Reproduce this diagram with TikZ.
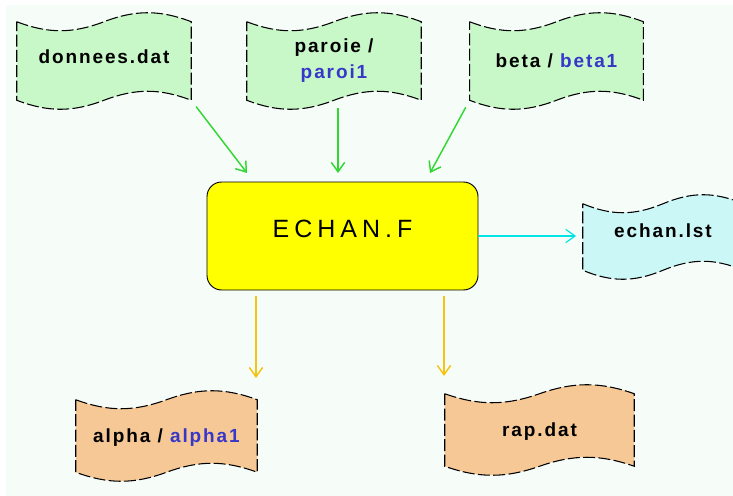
\documentclass[tikz,border=0pt]{standalone}
\usepackage{fontspec}
\setmainfont{Liberation Sans}
\newfontfamily\labelfont{Liberation Sans}[LetterSpace=10]
\newfontfamily\progfont{Liberation Sans}[LetterSpace=20]
\usetikzlibrary{arrows.meta,calc,backgrounds}

\definecolor{bgmint}{RGB}{246,253,249}
\definecolor{tapegreen}{RGB}{200,247,200}
\definecolor{tapecyan}{RGB}{204,247,247}
\definecolor{tapepeach}{RGB}{245,200,150}
\definecolor{progyellow}{RGB}{255,255,0}
\definecolor{arrowgreen}{RGB}{50,215,50}
\definecolor{arrowgold}{RGB}{245,195,20}
\definecolor{arrowcyan}{RGB}{0,228,228}
\definecolor{nameblue}{RGB}{55,55,200}

\begin{document}
\begin{tikzpicture}[
        x=0.75pt, y=-0.75pt,
        tape/.style={inner sep=0pt, align=center, minimum width=130.5pt, minimum height=58.5pt,
            font=\labelfont\fontsize{14.25}{19.5}\selectfont\bfseries},
        tapeline/.style={draw=black, line width=0.8pt, dash pattern=on 9pt off 2.5pt},
        prog/.style={draw=black, line width=0.7pt, fill=progyellow, rounded corners=11pt,
            minimum width=203.25pt, minimum height=81pt, text depth=10.5pt,
            font=\progfont\fontsize{18.75}{22}\selectfont},
        greenarrow/.style={draw=arrowgreen, line width=1.1pt, -{Straight Barb[length=7pt,width=10pt]}},
        goldarrow/.style={draw=arrowgold, line width=1.1pt, -{Straight Barb[length=7pt,width=10pt]}},
        cyanarrow/.style={draw=arrowcyan, line width=0.9pt, -{Straight Barb[length=7pt,width=10pt]}},
    ]
    \useasboundingbox (0,0) rectangle (733,496);

    \node[tape, text depth=7.2pt] (donnees) at (104,61) {donnees.dat};
    \node[tape] (paroie) at (334,61) {paroie /\\\textcolor{nameblue}{paroi1}};
    \node[tape, minimum width=130pt] (beta) at (556.5,61) {beta / \textcolor{nameblue}{beta1}};
    \node[tape, minimum width=120pt, minimum height=49.5pt, text depth=9pt] (echanlst) at (663,237) {echan.lst};
    \node[tape, minimum width=135.75pt, minimum height=54pt, text depth=0pt] (alpha) at (166.5,436) {alpha / \textcolor{nameblue}{alpha1}};
    \node[tape, minimum width=141.75pt, minimum height=54pt, text depth=0pt] (rap) at (539.5,430) {rap.dat};
    \node[prog] (echanf) at (342.5,236) {ECHAN.F};

    \begin{scope}[on background layer]
        \clip (0,0) rectangle (733,496);
        \fill[bgmint] (6,5) rectangle (733,496);
        \foreach \tn/\tc in {donnees/tapegreen, paroie/tapegreen, beta/tapegreen,
                echanlst/tapecyan, alpha/tapepeach, rap/tapepeach}
            \filldraw[tapeline, fill=\tc] let \p1=(\tn.north west), \p2=(\tn.south east), \n1={\x2-\x1} in
                (\x1,\y1) .. controls ({\x1+0.18*\n1},{\y1-9pt}) and ({\x1+0.32*\n1},{\y1-9pt}) .. ({\x1+0.5*\n1},\y1)
                .. controls ({\x1+0.68*\n1},{\y1+9pt}) and ({\x1+0.82*\n1},{\y1+9pt}) .. (\x2,\y1)
                -- (\x2,\y2)
                .. controls ({\x1+0.82*\n1},{\y2+9pt}) and ({\x1+0.68*\n1},{\y2+9pt}) .. ({\x1+0.5*\n1},\y2)
                .. controls ({\x1+0.32*\n1},{\y2-9pt}) and ({\x1+0.18*\n1},{\y2-9pt}) .. (\x1,\y2) -- cycle;
    \end{scope}

    \coordinate (in1) at (247,173);
    \coordinate (in2) at (338,173);
    \coordinate (in3) at (430,173);
    \coordinate (out1) at (256,378);
    \coordinate (out2) at (444,376);

    \draw[greenarrow, shorten <=6pt] (donnees.south east) -- (in1);
    \draw[greenarrow, shorten <=6pt] (paroie.south -| in2) -- (in2);
    \draw[greenarrow, shorten <=6pt] (beta.south west) -- (in3);
    \draw[cyanarrow, shorten >=5pt] (echanf.east) -- (echanf.east -| echanlst.west);
    \draw[goldarrow, shorten <=4.5pt] (echanf.south -| out1) -- (out1);
    \draw[goldarrow, shorten <=4.5pt] (echanf.south -| out2) -- (out2);
\end{tikzpicture}
\end{document}
